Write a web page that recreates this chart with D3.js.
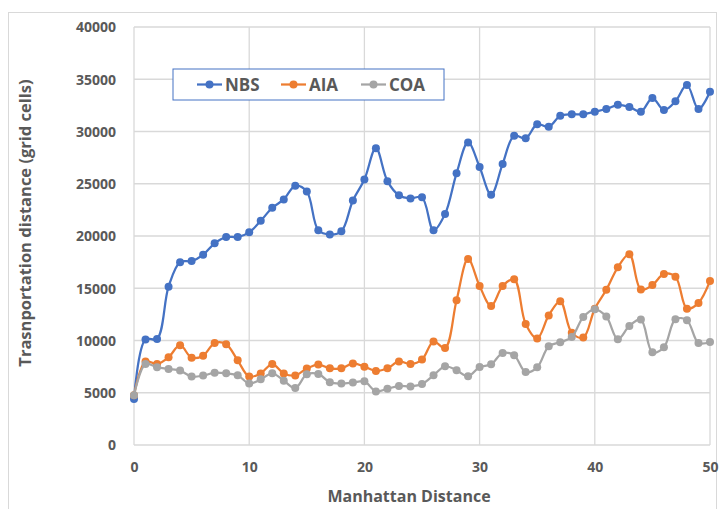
<!DOCTYPE html>
<html>
<head>
<meta charset="utf-8">
<script src="https://cdn.jsdelivr.net/npm/d3@7"></script>
<style>
  body { margin: 0; background: #fff; }
  text { font-family: "Open Sans", "Liberation Sans", sans-serif; font-weight: bold; fill: #595959; }
</style>
</head>
<body>
<script>
// manhattan distance 0..50
var distances = d3.range(0, 51)

var nbsValues = [4400, 10100, 10150, 15150, 17500, 17600, 18200, 19300, 19900, 19900,
  20350, 21450, 22700, 23500, 24800, 24250, 20550, 20150, 20450, 23400,
  25400, 28400, 25250, 23900, 23600, 23700, 20550, 22100, 26000, 28950,
  26600, 23950, 26900, 29600, 29350, 30700, 30450, 31500, 31650, 31650,
  31900, 32150, 32550, 32350, 31900, 33200, 32050, 32900, 34450, 32150, 33800]

var aiaValues = [4750, 8000, 7750, 8400, 9550, 8350, 8550, 9750, 9650, 8100,
  6550, 6850, 7750, 6850, 6650, 7320, 7700, 7340, 7340, 7800,
  7500, 7080, 7340, 8000, 7750, 8170, 9900, 9280, 13850, 17800,
  15220, 13300, 15220, 15850, 11580, 10200, 12400, 13750, 10750, 10280,
  13050, 14850, 17000, 18250, 14880, 15300, 16370, 16100, 13050, 13600, 15700]

var coaValues = [4750, 7750, 7450, 7270, 7120, 6550, 6640, 6920, 6860, 6670,
  5880, 6280, 6860, 6160, 5450, 6760, 6800, 6000, 5880, 5970,
  6090, 5130, 5390, 5640, 5610, 5830, 6670, 7530, 7150, 6570,
  7460, 7720, 8800, 8580, 6980, 7430, 9440, 9830, 10330, 12250,
  12990, 12290, 10120, 11390, 12000, 8870, 9350, 12030, 11930, 9760, 9860]

var seriesNames = ["NBS", "AIA", "COA"]
var seriesColors = ["#4472C4", "#ED7D31", "#A5A5A5"]
var seriesValues = [nbsValues, aiaValues, coaValues]

var xTicks = [0, 10, 20, 30, 40, 50]
var yTicks = [0, 5000, 10000, 15000, 20000, 25000, 30000, 35000, 40000]

var width = 719, height = 509
var plotLeft = 134, plotRight = 710, plotTop = 27, plotBottom = 445

var svg = d3.select("body").append("svg")
    .attr("width", width)
    .attr("height", height)

// chart border (bottom edge falls outside the picture)
svg.append("rect")
    .attr("x", 8.5).attr("y", 12.5)
    .attr("width", 708).attr("height", 510)
    .attr("fill", "none")
    .attr("stroke", "#d9d9d9")
    .attr("stroke-width", 1)

var x = d3.scaleLinear().domain([0, 50]).range([plotLeft, plotRight])
var y = d3.scaleLinear().domain([0, 40000]).range([plotBottom, plotTop])

// gridlines
svg.append("g").selectAll("line.hgrid")
    .data(yTicks)
    .enter().append("line")
    .attr("x1", plotLeft).attr("x2", plotRight)
    .attr("y1", function (d) { return y(d) }).attr("y2", function (d) { return y(d) })
    .attr("stroke", "#d9d9d9").attr("stroke-width", 1.3)

svg.append("g").selectAll("line.vgrid")
    .data(xTicks)
    .enter().append("line")
    .attr("x1", function (d) { return x(d) }).attr("x2", function (d) { return x(d) })
    .attr("y1", plotTop).attr("y2", plotBottom)
    .attr("stroke", "#d9d9d9").attr("stroke-width", 1.3)

// tick labels
var yAxis = svg.append("g")
    .attr("transform", "translate(" + (plotLeft - 15) + ",0)")
    .call(d3.axisLeft(y).tickValues(yTicks).tickSize(0).tickFormat(d3.format("d")))
yAxis.select(".domain").remove()
yAxis.selectAll("text")
    .attr("font-size", "14px")
    .attr("dy", "0.35em")
    .style("font-family", "\"Open Sans\", sans-serif")
    .style("font-weight", "bold")
    .attr("fill", "#595959")

var xAxis = svg.append("g")
    .attr("transform", "translate(0," + (plotBottom + 14) + ")")
    .call(d3.axisBottom(x).tickValues(xTicks).tickSize(0).tickFormat(d3.format("d")))
xAxis.select(".domain").remove()
xAxis.selectAll("text")
    .attr("font-size", "14px")
    .style("font-family", "\"Open Sans\", sans-serif")
    .style("font-weight", "bold")
    .attr("fill", "#595959")

// axis titles
svg.append("text")
    .attr("x", 409)
    .attr("y", 502)
    .attr("text-anchor", "middle")
    .attr("font-size", "16px")
    .text("Manhattan Distance")

svg.append("text")
    .attr("transform", "translate(31," + 223 + ") rotate(-90)")
    .attr("text-anchor", "middle")
    .attr("font-size", "16.5px")
    .text("Trasnportation distance (grid cells)")

// series
var line = d3.line()
    .x(function (d, i) { return x(distances[i]) })
    .y(function (d) { return y(d) })
    .curve(d3.curveCatmullRom.alpha(0.5))

seriesValues.forEach(function (vals, s) {
    var g = svg.append("g").attr("class", "series-" + seriesNames[s])
    g.append("path")
        .attr("d", line(vals))
        .attr("fill", "none")
        .attr("stroke", seriesColors[s])
        .attr("stroke-width", 2.25)
    g.selectAll("circle")
        .data(vals)
        .enter().append("circle")
        .attr("cx", function (d, i) { return x(distances[i]) })
        .attr("cy", function (d) { return y(d) })
        .attr("r", 4)
        .attr("fill", seriesColors[s])
})

// legend
var legend = svg.append("g")
legend.append("rect")
    .attr("x", 173).attr("y", 69)
    .attr("width", 271).attr("height", 31)
    .attr("fill", "white")
    .attr("stroke", "#4472C4")
    .attr("stroke-width", 1)

var legendX = [197, 281, 361]
seriesNames.forEach(function (name, s) {
    var lx = legendX[s]
    legend.append("line")
        .attr("x1", lx).attr("x2", lx + 25)
        .attr("y1", 84.5).attr("y2", 84.5)
        .attr("stroke", seriesColors[s]).attr("stroke-width", 2.25)
    legend.append("circle")
        .attr("cx", lx + 12.5).attr("cy", 84.5).attr("r", 4)
        .attr("fill", seriesColors[s])
    legend.append("text")
        .attr("x", lx + 28).attr("y", 90.5)
        .attr("font-size", "17px")
        .text(name)
})
</script>
</body>
</html>
